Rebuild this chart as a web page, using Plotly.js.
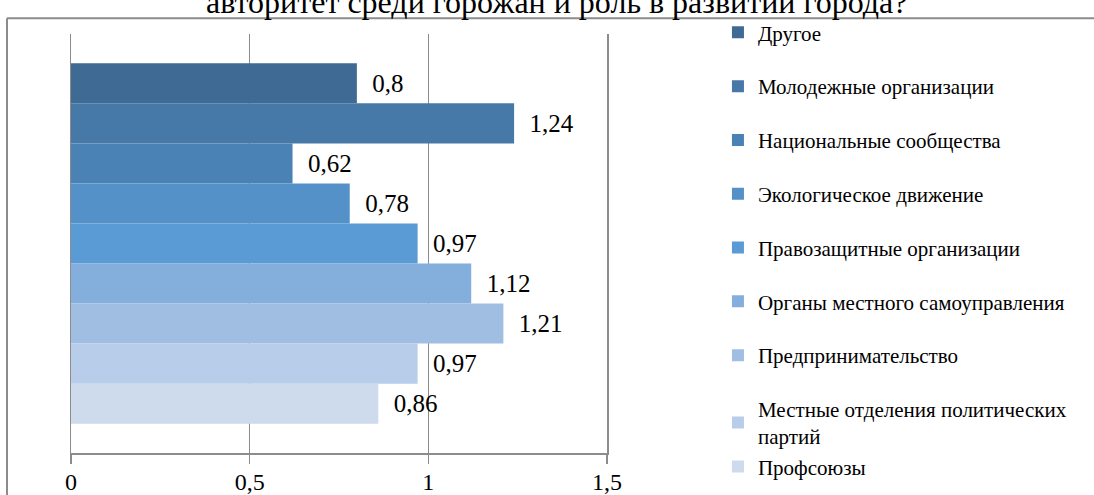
<!DOCTYPE html>
<html>
<head>
<meta charset="utf-8">
<script src="https://cdn.plot.ly/plotly-3.0.1.min.js"></script>
<style>html,body{margin:0;padding:0;background:#fff;}#chart{width:1094px;height:495px;}</style>
</head>
<body>
<div id="chart"></div>
<script>
const categories = ["Другое", "Молодежные организации", "Национальные сообщества", "Экологическое движение", "Правозащитные организации", "Органы местного самоуправления", "Предпринимательство", "Местные отделения политических<br>партий", "Профсоюзы"];
const values = [0.8, 1.24, 0.62, 0.78, 0.97, 1.12, 1.21, 0.97, 0.86];
const colors = ["#3e6a93", "#4678a8", "#4b82b6", "#5391c8", "#5b9bd5", "#84aedb", "#a0bde2", "#b8cdea", "#cddbed"];
const groups = ["g0", "g1", "g2", "g3", "g4", "g5", "g6", "g7", "g7"];
const tickVals = [0, 0.5, 1, 1.5];
const tickText = ["0", "0,5", "1", "1,5"];
const titleText = "авторитет среди горожан и роль в развитии города?";

const SERIF = "Liberation Serif";
const fmt = v => "\u00a0\u00a0" + String(v).replace(".", ",");

const traces = categories.map((name, i) => ({
  type: "bar",
  orientation: "h",
  name: name,
  x: [values[i]],
  y: ["q"],
  text: [fmt(values[i])],
  textposition: "outside",
  cliponaxis: false,
  textfont: {family: SERIF, size: 25, color: "#000"},
  marker: {color: colors[i], line: {width: 0}},
  legendgroup: groups[i],
  hoverinfo: "x+name"
}));

const layout = {
  width: 1094, height: 495,
  margin: {l: 71, r: 487, t: 29, b: 42},
  paper_bgcolor: "#fff", plot_bgcolor: "#fff",
  font: {family: SERIF, color: "#000"},
  barmode: "group",
  bargap: 0.14,
  bargroupgap: 0,
  xaxis: {range: [0, 1.5], tickvals: tickVals, ticktext: tickText, showgrid: true, gridcolor: "#8c8c8c", gridwidth: 1.5,
          showline: true, linecolor: "#8c8c8c", linewidth: 1.5, ticks: "outside", ticklen: 9, tickcolor: "#8c8c8c", tickwidth: 1.5,
          zeroline: false, tickfont: {size: 24, family: SERIF, color: "#000"}, ticklabelstandoff: -2, fixedrange: true},
  yaxis: {autorange: "reversed", showticklabels: false, showgrid: false, zeroline: false,
          showline: true, mirror: true, linecolor: "#8c8c8c", linewidth: 1.5, ticks: "", fixedrange: true},
  showlegend: true,
  legend: {x: 1.207, xanchor: "left", y: 1.052, yanchor: "top", tracegroupgap: 23.5, maxheight: 700,
           font: {size: 21, family: SERIF, color: "#000"},
           itemwidth: 30, bgcolor: "rgba(0,0,0,0)"},
  annotations: [
    {text: titleText, xref: "paper", yref: "paper", x: 0.9067, y: 1.0755, xanchor: "center", yanchor: "middle",
     showarrow: false, font: {size: 32, family: SERIF, color: "#000"}}
  ],
  shapes: [
    {type: "line", xref: "paper", yref: "paper", x0: -0.1194, x1: -0.1194, y0: -0.2, y1: 1.0377, line: {color: "#8c8c8c", width: 2}},
    {type: "line", xref: "paper", yref: "paper", x0: -0.1194, x1: 2.0, y0: 1.0377, y1: 1.0377, line: {color: "#8c8c8c", width: 2}}
  ]
};

Plotly.newPlot("chart", traces, layout, {displayModeBar: false, staticPlot: true});
</script>
</body>
</html>
